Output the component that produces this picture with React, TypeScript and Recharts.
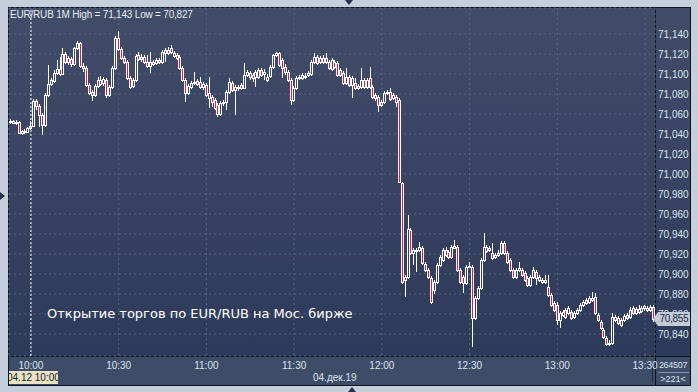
import { ComposedChart, Bar, XAxis, YAxis, CartesianGrid, ReferenceLine } from "recharts";

// EUR/RUB, 1-minute candles 04.12.19, 9:53 .. 13:33 (221 bars)
const opens = [
  71.052, 71.053, 71.051, 71.052, 71.041, 71.043, 71.042, 71.046, 71.048, 71.073,
  71.068, 71.059, 71.049, 71.079, 71.090, 71.093, 71.101, 71.105, 71.100, 71.120,
  71.112, 71.115, 71.110, 71.126, 71.131, 71.108, 71.106, 71.089, 71.082, 71.079,
  71.088, 71.094, 71.091, 71.094, 71.079, 71.087, 71.106, 71.136, 71.125, 71.116,
  71.112, 71.096, 71.088, 71.094, 71.119, 71.115, 71.117, 71.112, 71.108, 71.112,
  71.111, 71.114, 71.112, 71.121, 71.124, 71.126, 71.121, 71.119, 71.117, 71.106,
  71.094, 71.081, 71.087, 71.091, 71.093, 71.092, 71.087, 71.089, 71.081, 71.077,
  71.074, 71.069, 71.060, 71.071, 71.072, 71.082, 71.091, 71.084, 71.087, 71.089,
  71.086, 71.099, 71.101, 71.099, 71.097, 71.097, 71.104, 71.100, 71.097, 71.098,
  71.107, 71.119, 71.121, 71.114, 71.107, 71.102, 71.094, 71.074, 71.086, 71.096,
  71.096, 71.098, 71.099, 71.100, 71.112, 71.117, 71.112, 71.116, 71.116, 71.112,
  71.105, 71.112, 71.111, 71.104, 71.101, 71.091, 71.097, 71.089, 71.091, 71.086,
  71.087, 71.094, 71.087, 71.096, 71.087, 71.079, 71.077, 71.069, 71.072, 71.081,
  71.082, 71.076, 71.077, 71.074, 70.991, 70.894, 70.897, 70.944, 70.921, 70.923,
  70.924, 70.926, 70.910, 70.904, 70.896, 70.884, 70.892, 70.909, 70.914, 70.924,
  70.922, 70.917, 70.926, 70.927, 70.904, 70.897, 70.891, 70.907, 70.907, 70.856,
  70.876, 70.886, 70.914, 70.927, 70.924, 70.921, 70.917, 70.919, 70.921, 70.931,
  70.921, 70.914, 70.904, 70.897, 70.904, 70.904, 70.901, 70.896, 70.889, 70.897,
  70.902, 70.894, 70.892, 70.894, 70.887, 70.879, 70.871, 70.869, 70.854, 70.859,
  70.864, 70.861, 70.862, 70.857, 70.861, 70.864, 70.869, 70.874, 70.872, 70.876,
  70.877, 70.859, 70.852, 70.844, 70.836, 70.830, 70.831, 70.857, 70.856, 70.849,
  70.854, 70.859, 70.857, 70.866, 70.861, 70.865, 70.863, 70.866, 70.866, 70.864,
  70.867,
];

const highs = [
  71.055, 71.054, 71.054, 71.053, 71.044, 71.045, 71.047, 71.053, 71.075, 71.075,
  71.070, 71.061, 71.081, 71.109, 71.096, 71.104, 71.114, 71.117, 71.126, 71.122,
  71.118, 71.117, 71.127, 71.133, 71.132, 71.111, 71.108, 71.091, 71.084, 71.090,
  71.097, 71.098, 71.097, 71.096, 71.089, 71.108, 71.138, 71.143, 71.127, 71.118,
  71.114, 71.098, 71.096, 71.120, 71.122, 71.120, 71.119, 71.119, 71.122, 71.114,
  71.116, 71.116, 71.124, 71.126, 71.127, 71.129, 71.123, 71.121, 71.119, 71.108,
  71.096, 71.090, 71.093, 71.102, 71.095, 71.097, 71.092, 71.091, 71.097, 71.079,
  71.076, 71.071, 71.073, 71.074, 71.084, 71.096, 71.093, 71.089, 71.089, 71.091,
  71.111, 71.104, 71.103, 71.101, 71.104, 71.106, 71.106, 71.105, 71.100, 71.109,
  71.120, 71.122, 71.122, 71.116, 71.110, 71.104, 71.096, 71.088, 71.098, 71.099,
  71.101, 71.101, 71.103, 71.114, 71.121, 71.119, 71.118, 71.119, 71.121, 71.114,
  71.116, 71.114, 71.113, 71.106, 71.103, 71.106, 71.099, 71.098, 71.096, 71.090,
  71.106, 71.096, 71.096, 71.107, 71.089, 71.081, 71.079, 71.074, 71.083, 71.084,
  71.086, 71.081, 71.079, 71.076, 70.992, 70.899, 70.959, 70.946, 70.926, 70.926,
  70.932, 70.928, 70.912, 70.906, 70.898, 70.894, 70.911, 70.919, 70.926, 70.927,
  70.924, 70.929, 70.934, 70.929, 70.906, 70.899, 70.909, 70.912, 70.909, 70.878,
  70.888, 70.916, 70.941, 70.929, 70.928, 70.931, 70.921, 70.924, 70.933, 70.933,
  70.923, 70.916, 70.906, 70.906, 70.912, 70.906, 70.903, 70.898, 70.899, 70.907,
  70.904, 70.899, 70.896, 70.899, 70.899, 70.881, 70.873, 70.872, 70.863, 70.864,
  70.866, 70.868, 70.864, 70.863, 70.866, 70.871, 70.874, 70.876, 70.878, 70.882,
  70.881, 70.861, 70.854, 70.846, 70.838, 70.834, 70.861, 70.859, 70.858, 70.856,
  70.860, 70.861, 70.867, 70.868, 70.867, 70.869, 70.868, 70.869, 70.868, 70.869,
  70.869,
];

const lows = [
  71.050, 71.050, 71.049, 71.040, 71.039, 71.040, 71.041, 71.044, 71.047, 71.064,
  71.047, 71.039, 71.047, 71.077, 71.088, 71.091, 71.099, 71.098, 71.099, 71.110,
  71.109, 71.107, 71.108, 71.124, 71.106, 71.102, 71.087, 71.079, 71.073, 71.077,
  71.086, 71.088, 71.088, 71.076, 71.077, 71.085, 71.104, 71.123, 71.114, 71.110,
  71.094, 71.085, 71.086, 71.092, 71.113, 71.112, 71.110, 71.106, 71.101, 71.108,
  71.109, 71.110, 71.110, 71.112, 71.119, 71.120, 71.116, 71.114, 71.104, 71.092,
  71.072, 71.079, 71.085, 71.089, 71.088, 71.085, 71.084, 71.077, 71.066, 71.067,
  71.064, 71.057, 71.058, 71.068, 71.064, 71.080, 71.082, 71.059, 71.083, 71.084,
  71.085, 71.097, 71.094, 71.092, 71.087, 71.095, 71.097, 71.094, 71.092, 71.096,
  71.105, 71.117, 71.107, 71.096, 71.099, 71.092, 71.069, 71.072, 71.084, 71.094,
  71.094, 71.095, 71.097, 71.098, 71.110, 71.109, 71.110, 71.110, 71.110, 71.104,
  71.103, 71.105, 71.097, 71.097, 71.089, 71.089, 71.087, 71.076, 71.084, 71.084,
  71.085, 71.085, 71.085, 71.085, 71.075, 71.073, 71.062, 71.067, 71.070, 71.079,
  71.073, 71.074, 71.067, 70.991, 70.890, 70.877, 70.895, 70.919, 70.909, 70.902,
  70.922, 70.909, 70.902, 70.895, 70.870, 70.880, 70.890, 70.907, 70.912, 70.917,
  70.915, 70.915, 70.925, 70.902, 70.890, 70.881, 70.889, 70.906, 70.827, 70.854,
  70.874, 70.884, 70.912, 70.921, 70.922, 70.914, 70.915, 70.917, 70.919, 70.919,
  70.910, 70.902, 70.895, 70.895, 70.902, 70.897, 70.892, 70.887, 70.887, 70.895,
  70.889, 70.892, 70.890, 70.890, 70.877, 70.867, 70.862, 70.849, 70.846, 70.857,
  70.855, 70.859, 70.854, 70.855, 70.859, 70.862, 70.867, 70.869, 70.870, 70.872,
  70.859, 70.852, 70.844, 70.835, 70.828, 70.828, 70.829, 70.852, 70.849, 70.847,
  70.852, 70.854, 70.855, 70.859, 70.859, 70.860, 70.861, 70.863, 70.862, 70.862,
  70.852,
];

const closes = [
  71.053, 71.051, 71.052, 71.041, 71.043, 71.042, 71.046, 71.048, 71.073, 71.068,
  71.059, 71.049, 71.079, 71.090, 71.094, 71.101, 71.105, 71.100, 71.120, 71.112,
  71.116, 71.110, 71.126, 71.131, 71.108, 71.106, 71.089, 71.081, 71.079, 71.088,
  71.094, 71.090, 71.095, 71.079, 71.087, 71.106, 71.136, 71.125, 71.116, 71.112,
  71.096, 71.087, 71.094, 71.118, 71.115, 71.117, 71.112, 71.108, 71.112, 71.110,
  71.114, 71.112, 71.122, 71.124, 71.121, 71.122, 71.118, 71.116, 71.106, 71.094,
  71.081, 71.088, 71.091, 71.092, 71.090, 71.087, 71.090, 71.079, 71.076, 71.072,
  71.066, 71.060, 71.071, 71.072, 71.082, 71.092, 71.084, 71.087, 71.086, 71.086,
  71.099, 71.102, 71.097, 71.096, 71.102, 71.104, 71.099, 71.102, 71.094, 71.107,
  71.119, 71.121, 71.109, 71.106, 71.102, 71.094, 71.074, 71.086, 71.096, 71.097,
  71.099, 71.097, 71.101, 71.112, 71.117, 71.111, 71.116, 71.112, 71.112, 71.106,
  71.114, 71.107, 71.099, 71.099, 71.091, 71.097, 71.089, 71.096, 71.086, 71.088,
  71.094, 71.087, 71.094, 71.087, 71.077, 71.076, 71.069, 71.072, 71.081, 71.082,
  71.075, 71.079, 71.072, 70.992, 70.892, 70.897, 70.945, 70.921, 70.924, 70.924,
  70.927, 70.911, 70.904, 70.897, 70.872, 70.892, 70.909, 70.917, 70.924, 70.919,
  70.917, 70.927, 70.928, 70.904, 70.892, 70.891, 70.907, 70.908, 70.856, 70.876,
  70.886, 70.914, 70.927, 70.923, 70.926, 70.916, 70.919, 70.921, 70.931, 70.921,
  70.912, 70.904, 70.897, 70.904, 70.906, 70.899, 70.894, 70.889, 70.897, 70.904,
  70.896, 70.897, 70.894, 70.892, 70.879, 70.869, 70.864, 70.854, 70.861, 70.862,
  70.857, 70.866, 70.856, 70.861, 70.864, 70.869, 70.872, 70.871, 70.876, 70.874,
  70.861, 70.854, 70.846, 70.837, 70.830, 70.831, 70.857, 70.854, 70.851, 70.854,
  70.858, 70.856, 70.864, 70.861, 70.865, 70.862, 70.866, 70.868, 70.864, 70.867,
  70.855,
];

const timeTicks = [7, 37, 67, 97, 127, 157, 187, 217];
const timeLabels = ["10:00", "10:30", "11:00", "11:30", "12:00", "12:30", "13:00", "13:30"];
const priceTicks = [
  70.84, 70.86, 70.88, 70.9, 70.92, 70.94, 70.96, 70.98,
  71.0, 71.02, 71.04, 71.06, 71.08, 71.1, 71.12, 71.14,
];

const RED = "#e8173e";
const TXT = "#dce3ee";
const FONT = "'Liberation Sans', Arial, sans-serif";

const data = opens.map((o, i) => ({ i, o, h: highs[i], l: lows[i], c: closes[i] }));

const Candle = (props: any) => {
  const { x, y, width, height, payload } = props;
  const { o, h, l, c } = payload;
  const k = h > l ? height / (h - l) : 0;
  const py = (v: number) => y + (h - v) * k;
  const cx = Math.floor(x + width / 2) + 0.5;
  const top = Math.round(py(Math.max(o, c))) + 0.5;
  const bot = Math.max(Math.round(py(Math.min(o, c))) + 0.5, top + 1);
  const up = c >= o;
  return (
    <g>
      <line x1={cx} x2={cx} y1={Math.round(y)} y2={top} stroke="#fff" />
      <line x1={cx} x2={cx} y1={bot} y2={Math.round(y + height)} stroke="#fff" />
      <rect x={cx - 1} y={top} width={2} height={bot - top} fill={up ? "none" : RED} stroke="#fff" />
    </g>
  );
};

const abs = (s: any) => ({ position: "absolute" as const, ...s });

export default function App() {
  return (
    <div style={abs({ left: 0, top: 0, width: 698, height: 392, background: "#c5cfdb", overflow: "hidden", fontFamily: FONT })}>
      {/* frame triangles */}
      <div style={abs({ left: 345, top: 0, width: 0, height: 0, borderLeft: "4px solid transparent", borderRight: "4px solid transparent", borderTop: "5px solid #26324c" })} />
      <div style={abs({ left: 0, top: 192, width: 0, height: 0, borderTop: "4px solid transparent", borderBottom: "4px solid transparent", borderLeft: "5px solid #26324c" })} />
      <div style={abs({ left: 348, top: 387, width: 0, height: 0, borderLeft: "4px solid transparent", borderRight: "4px solid transparent", borderBottom: "5px solid #26324c" })} />

      {/* panels */}
      <div style={abs({ left: 8, top: 7, width: 683, height: 379, background: "#10141f" })} />
      <div style={abs({ left: 9, top: 8, width: 646, height: 348, background: "linear-gradient(#404c68, #2e3a59)" })} />
      <div style={abs({ left: 656, top: 8, width: 34, height: 348, background: "linear-gradient(#404c68, #2e3a59)" })} />
      <div style={abs({ left: 9, top: 357, width: 646, height: 28, background: "#3e4c68" })} />
      <div style={abs({ left: 656, top: 357, width: 34, height: 28, background: "#3e4c68" })} />
      <div style={abs({ left: 658, top: 372, width: 31, height: 1, background: "#8693aa" })} />
      <div style={abs({ left: 652, top: 365, width: 1, height: 17, background: "#202a40" })} />

      <div style={abs({ left: 0, top: 0, zIndex: 1 })}>
        <ComposedChart width={698} height={392} data={data} margin={{ top: 8, right: 8, left: 9, bottom: 7 }}>
          <CartesianGrid stroke="#5b6784" strokeDasharray="2 3" />
          <XAxis
            type="number"
            dataKey="i"
            domain={[-0.5, 220.4]}
            ticks={timeTicks}
            interval={0}
            allowDataOverflow
            height={29}
            axisLine={false}
            tickLine={false}
            tickSize={0}
            tickMargin={6}
            tickFormatter={(v: number) => timeLabels[timeTicks.indexOf(v)]}
            tick={{ fill: TXT, fontSize: 10, fontFamily: FONT }}
          />
          <YAxis
            orientation="right"
            type="number"
            domain={[70.818, 71.166]}
            ticks={priceTicks}
            interval={0}
            allowDataOverflow
            width={35}
            axisLine={false}
            tickLine={false}
            tickSize={0}
            tickMargin={3}
            tickFormatter={(v: number) => v.toFixed(3).replace(".", ",")}
            tick={{ fill: TXT, fontSize: 10, fontFamily: FONT, textAnchor: "start" }}
          />
          <ReferenceLine x={7} stroke="#ffffff" strokeDasharray="2 2" />
          <Bar dataKey={(d: any) => [d.l, d.h]} barSize={3} shape={(p: any) => <Candle {...p} />} isAnimationActive={false} />
        </ComposedChart>
      </div>

      {/* texts */}
      <div style={abs({ zIndex: 2, left: 10, top: 9, fontSize: 10, lineHeight: "12px", color: "#e8edf5", letterSpacing: -0.2, whiteSpace: "nowrap" })}>
        EUR/RUB 1M High = 71,143 Low = 70,827
      </div>
      <div style={abs({ zIndex: 2, left: 47, top: 306, fontSize: 13, lineHeight: "15px", color: "#ffffff", fontFamily: "'DejaVu Sans', sans-serif", whiteSpace: "nowrap" })}>
        Открытие торгов по EUR/RUB на Мос. бирже
      </div>
      <div style={abs({ zIndex: 2, left: 9, top: 371, width: 49, height: 13, background: "#e8e3c2", overflow: "hidden" })}>
        <div style={abs({ left: -2, top: 0, fontSize: 10, lineHeight: "13px", color: "#1a2030", whiteSpace: "nowrap" })}>04.12 10:00</div>
      </div>
      <div style={abs({ zIndex: 2, left: 313, top: 371, fontSize: 10, lineHeight: "13px", color: TXT, whiteSpace: "nowrap" })}>04.дек.19</div>
      <div style={abs({ zIndex: 2, left: 656, top: 359, width: 34, textAlign: "center", fontSize: 9, letterSpacing: -0.3, lineHeight: "12px", color: TXT, whiteSpace: "nowrap" })}>264507</div>
      <div style={abs({ zIndex: 2, left: 656, top: 373, width: 34, textAlign: "center", fontSize: 9, lineHeight: "12px", color: TXT })}>&gt;221&lt;</div>

      {/* last price tag */}
      <div style={abs({ zIndex: 2, left: 653, top: 312, width: 0, height: 0, borderTop: "7px solid transparent", borderBottom: "7px solid transparent", borderRight: "5px solid #c3cbd6" })} />
      <div style={abs({ zIndex: 2, left: 658, top: 312, width: 32, height: 14, background: "#c3cbd6", fontSize: 10, letterSpacing: -0.3, lineHeight: "14px", color: "#1c2640", textAlign: "center", whiteSpace: "nowrap" })}>70,855</div>
    </div>
  );
}
